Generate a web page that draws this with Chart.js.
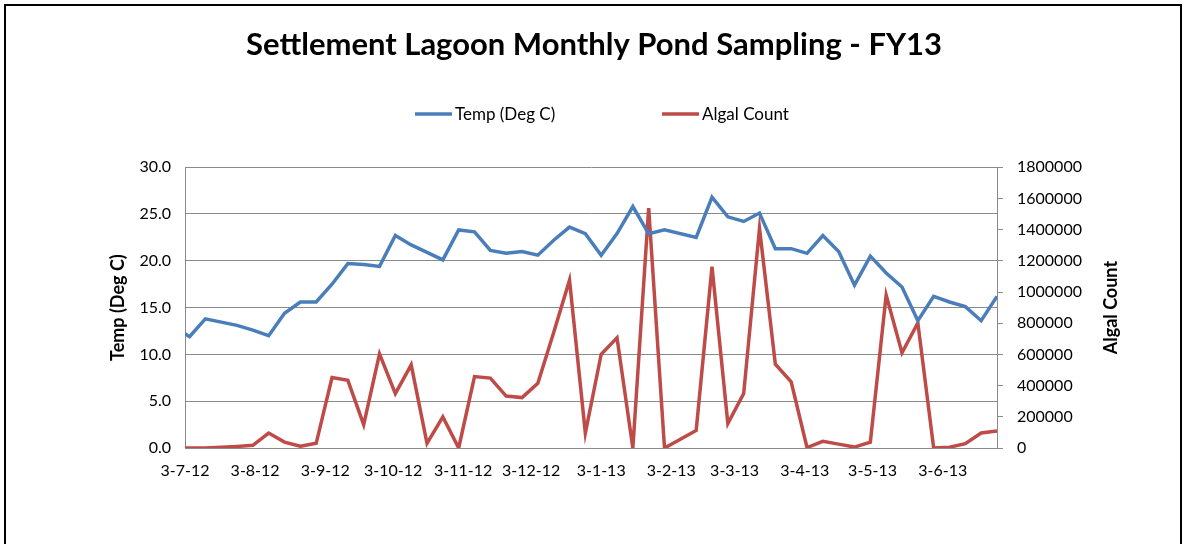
<!DOCTYPE html>
<html>
<head>
<meta charset="utf-8">
<script src="https://cdn.jsdelivr.net/npm/chart.js@4.4.0/dist/chart.umd.min.js"></script>
<style>
html,body{margin:0;padding:0;background:#fff;}
#wrap{position:relative;width:1188px;height:544px;}
</style>
</head>
<body>
<div id="wrap"><canvas id="myChart" width="1188" height="544"></canvas></div>
<script>
const chartTitle='Settlement Lagoon Monthly Pond Sampling - FY13';
const seriesNames=['Temp (Deg C)','Algal Count'];
const axisTitles=['Temp (Deg C)','Algal Count'];

// sample dates (weekly-ish pond sampling)
const sampleDates=[
 '2012-07-03','2012-07-05','2012-07-12','2012-07-26','2012-08-02','2012-08-09','2012-08-16','2012-08-23','2012-08-30',
 '2012-09-06','2012-09-13','2012-09-20','2012-09-27','2012-10-04','2012-10-11','2012-10-18','2012-10-25',
 '2012-11-01','2012-11-08','2012-11-15','2012-11-22','2012-11-29','2012-12-06','2012-12-13','2012-12-20','2012-12-27',
 '2013-01-03','2013-01-10','2013-01-17','2013-01-24','2013-01-31','2013-02-14','2013-02-21','2013-02-28',
 '2013-03-07','2013-03-14','2013-03-21','2013-03-28','2013-04-04','2013-04-11','2013-04-18','2013-04-25',
 '2013-05-02','2013-05-09','2013-05-16','2013-05-23','2013-05-30','2013-06-06','2013-06-13','2013-06-20','2013-06-27'
];
const tempDegC=[
 12.2,11.9,13.8,13.1,12.6,12.0,14.4,15.6,15.6,
 17.5,19.7,19.6,19.4,22.7,21.7,20.9,20.1,
 23.3,23.1,21.1,20.8,21.0,20.6,22.2,23.6,22.9,
 20.6,22.9,25.8,22.9,23.3,22.5,26.8,24.7,
 24.2,25.1,21.3,21.3,20.8,22.7,21.0,17.4,
 20.5,18.7,17.2,13.6,16.2,15.6,15.1,13.6,16.2
];
const algalCount=[
 0,0,0,10000,17000,96000,38000,11000,30000,
 452000,434000,150000,603000,349000,533000,30000,199000,
 0,458000,448000,333000,323000,415000,740000,1076000,96000,
 601000,706000,0,1537000,0,112000,1162000,157000,
 349000,1408000,537000,424000,3000,43000,25000,6000,
 38000,980000,610000,802000,0,5000,28000,96000,109000
];
const monthTicks=['3-7-12','3-8-12','3-9-12','3-10-12','3-11-12','3-12-12','3-1-13','3-2-13','3-3-13','3-4-13','3-5-13','3-6-13'];

const start=Date.UTC(2012,6,3);
const toDay=s=>{const p=s.split('-').map(Number);return (Date.UTC(p[0],p[1]-1,p[2])-start)/864e5;};
const tickDay=s=>{const p=s.split('-').map(Number);return (Date.UTC(2000+p[2],p[1]-1,p[0])-start)/864e5;};

const gridGray='#8a8a8a';
const blue='#4a7ebb', red='#be4b48';

Chart.defaults.font.family='Lato';
Chart.defaults.color='#000';

const extras={
  id:'extras',
  beforeDraw(chart){
    const ctx=chart.ctx;
    ctx.save();
    ctx.fillStyle='#fff';
    ctx.fillRect(0,0,chart.width,chart.height);
    ctx.restore();
  },
  afterDraw(chart){
    const {ctx,chartArea:a}=chart;
    ctx.save();
    // outer frame
    ctx.strokeStyle='#000';
    ctx.lineWidth=2;
    ctx.strokeRect(5,5,1176,620);
    // legend
    const legendX=[415,662];
    chart.data.datasets.forEach((ds,i)=>{
      const x=legendX[i], y=114;
      ctx.strokeStyle=ds.borderColor;
      ctx.lineWidth=3.5;
      ctx.beginPath();ctx.moveTo(x,y);ctx.lineTo(x+37,y);ctx.stroke();
      ctx.fillStyle='#000';
      ctx.font='17px Lato';
      ctx.textBaseline='middle';
      ctx.textAlign='left';
      ctx.fillText(ds.label,x+40,y+1);
    });
    // axis titles
    const midY=(a.top+a.bottom)/2;
    ctx.font='bold 18px Lato';
    ctx.textAlign='center';
    ctx.textBaseline='middle';
    ctx.fillStyle='#000';
    [[118,axisTitles[0]],[1111,axisTitles[1]]].forEach(([x,t])=>{
      ctx.save();
      ctx.translate(x,midY);
      ctx.rotate(-Math.PI/2);
      ctx.fillText(t,0,0);
      ctx.restore();
    });
    ctx.restore();
  }
};

const ctx=document.getElementById('myChart').getContext('2d');
const myChart=new Chart(ctx,{
  type:'line',
  data:{
    datasets:[{
      label:seriesNames[0],
      data:sampleDates.map((d,i)=>({x:toDay(d),y:tempDegC[i]})),
      borderColor:blue,backgroundColor:blue,borderWidth:3.5,
      pointRadius:0,tension:0,yAxisID:'y'
    },{
      label:seriesNames[1],
      data:sampleDates.map((d,i)=>({x:toDay(d),y:algalCount[i]})),
      borderColor:red,backgroundColor:red,borderWidth:3.5,
      pointRadius:0,tension:0,yAxisID:'y1'
    }]
  },
  options:{
    responsive:false,
    animation:false,
    layout:{padding:0},
    plugins:{
      legend:{display:false},
      tooltip:{enabled:false},
      title:{
        display:true,text:chartTitle,
        font:{family:'Lato',size:31,weight:'bold'},
        color:'#000',
        padding:{top:26,bottom:104}
      }
    },
    scales:{
      x:{
        type:'linear',
        min:0,max:toDay(sampleDates[sampleDates.length-1]),
        afterBuildTicks:s=>{s.ticks=monthTicks.map(t=>({value:tickDay(t)}));},
        afterFit:s=>{s.height=96;},
        grid:{display:false},
        border:{display:true,color:gridGray,width:1},
        ticks:{
          autoSkip:false,maxRotation:0,padding:5,
          font:{size:16},
          callback:(v,i)=>monthTicks[i]
        }
      },
      y:{
        position:'left',min:0,max:30,
        afterFit:s=>{s.width=185;},
        grid:{color:gridGray,lineWidth:1,drawTicks:false},
        border:{display:true,color:gridGray,width:1},
        ticks:{stepSize:5,padding:14,font:{size:16},callback:v=>v.toFixed(1)}
      },
      y1:{
        position:'right',min:0,max:1800000,
        afterFit:s=>{s.width=191;},
        grid:{drawOnChartArea:false,drawTicks:true,tickLength:6,color:gridGray,tickColor:gridGray},
        border:{display:true,color:gridGray,width:1},
        ticks:{stepSize:200000,padding:14,font:{size:16},callback:v=>String(v)}
      }
    }
  },
  plugins:[extras]
});
</script>
</body>
</html>
